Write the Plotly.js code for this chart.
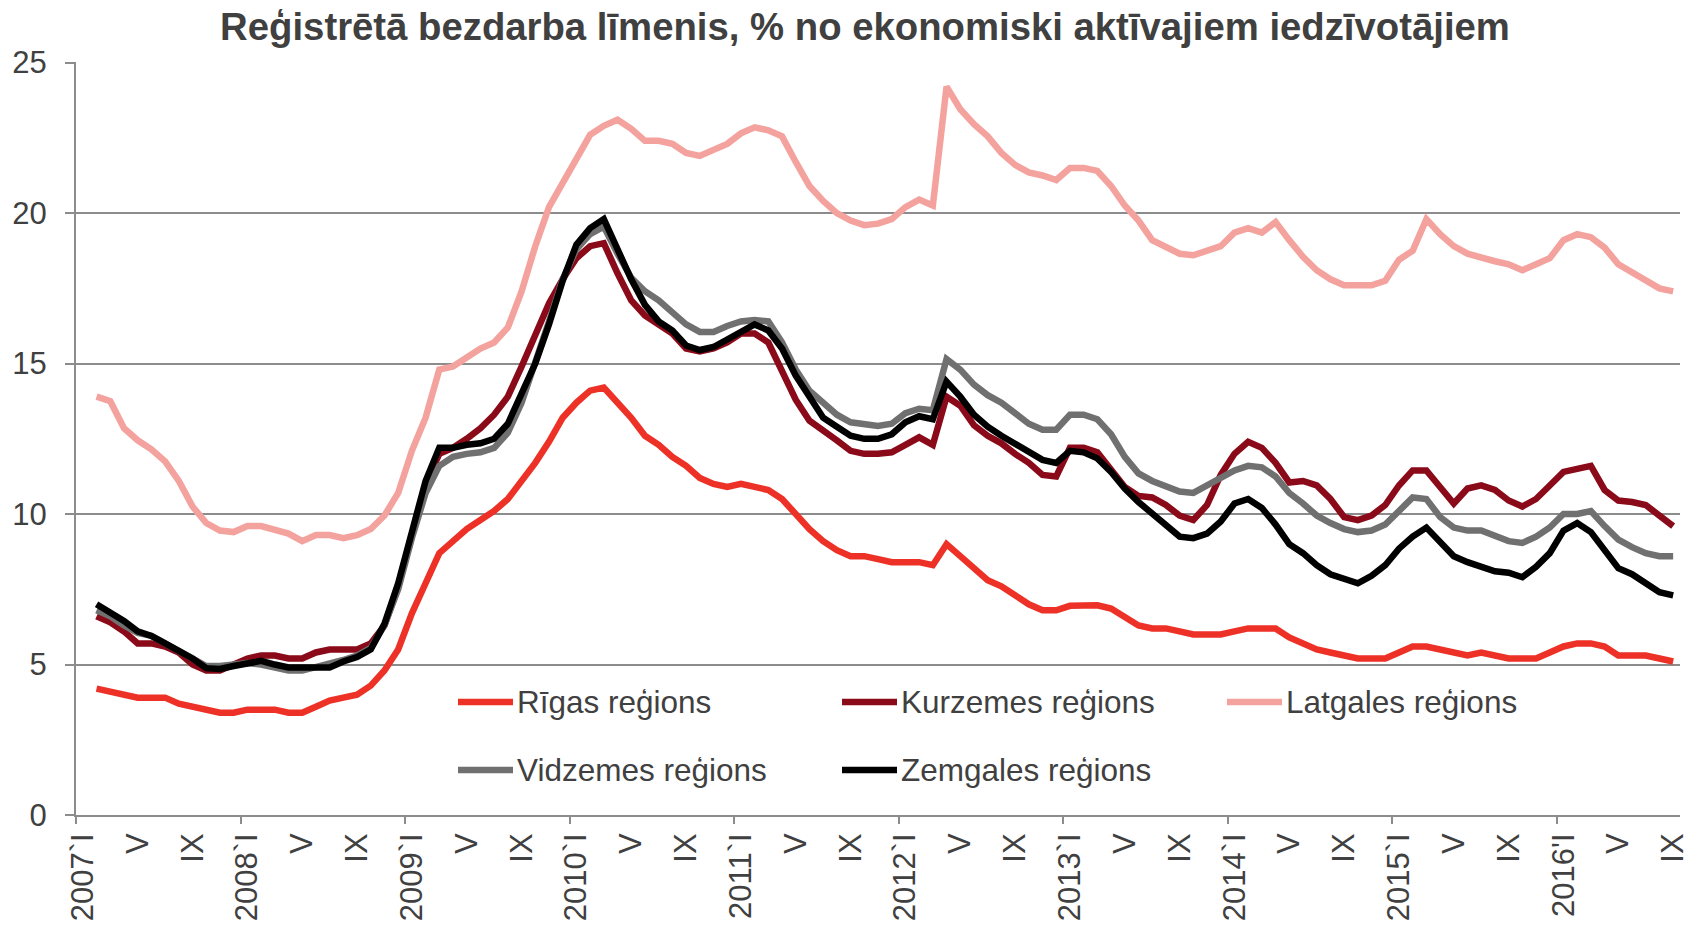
<!DOCTYPE html>
<html>
<head>
<meta charset="utf-8">
<script src="https://cdn.plot.ly/plotly-3.0.1.min.js"></script>
<style>
html,body{margin:0;padding:0;background:#fff;}
#chart{width:1688px;height:926px;}
</style>
</head>
<body>
<div id="chart"></div>
<script>
// ---------------- DATA ----------------
const chartTitle = "Reģistrētā bezdarba līmenis, % no ekonomiski aktīvajiem iedzīvotājiem";
const seriesNames = ["Rīgas reģions", "Kurzemes reģions", "Latgales reģions", "Vidzemes reģions", "Zemgales reģions"];
const romanMonths = ["I","II","III","IV","V","VI","VII","VIII","IX","X","XI","XII"];
const firstYear = 2007, lastYear = 2016, lastMonth = 9;

// monthly values, Feb 2007 .. Sep 2016
const riga = [4.2,4.1,4.0,3.9,3.9,3.9,3.7,3.6,3.5,3.4,3.4,
  3.5,3.5,3.5,3.4,3.4,3.6,3.8,3.9,4.0,4.3,4.8,5.5,
  6.7,7.7,8.7,9.1,9.5,9.8,10.1,10.5,11.1,11.7,12.4,13.2,
  13.7,14.1,14.2,13.7,13.2,12.6,12.3,11.9,11.6,11.2,11.0,10.9,
  11.0,10.9,10.8,10.5,10.0,9.5,9.1,8.8,8.6,8.6,8.5,8.4,
  8.4,8.4,8.3,9.0,8.6,8.2,7.8,7.6,7.3,7.0,6.8,6.8,
  6.95,6.97,6.97,6.86,6.6,6.3,6.2,6.2,6.1,6.0,6.0,6.0,
  6.1,6.2,6.2,6.2,5.9,5.7,5.5,5.4,5.3,5.2,5.2,5.2,
  5.4,5.6,5.6,5.5,5.35,5.3,5.4,5.3,5.2,5.2,5.2,5.4,
  5.6,5.7,5.7,5.6,5.3,5.3,5.3,5.2,5.1];
const kurzeme = [6.6,6.4,6.1,5.7,5.7,5.6,5.4,5.0,4.8,4.8,5.0,
  5.2,5.3,5.3,5.2,5.2,5.4,5.5,5.5,5.5,5.7,6.3,7.6,
  9.4,11.0,12.0,12.2,12.5,12.85,13.3,13.9,14.9,16.0,17.0,17.8,
  18.5,18.9,19.0,18.0,17.1,16.6,16.3,16.0,15.5,15.4,15.5,15.7,
  16.0,16.0,15.7,14.8,13.8,13.1,12.8,12.45,12.1,12.0,12.0,12.05,
  12.3,12.55,12.3,13.9,13.6,12.95,12.6,12.35,12.0,11.7,11.3,11.25,
  12.2,12.2,12.05,11.5,10.9,10.6,10.55,10.3,9.95,9.8,10.3,11.3,
  12.0,12.4,12.2,11.7,11.05,11.1,10.95,10.5,9.9,9.8,9.95,10.3,
  10.95,11.45,11.45,10.9,10.35,10.85,10.95,10.8,10.45,10.25,10.5,10.95,
  11.4,11.5,11.6,10.8,10.45,10.4,10.3,9.95,9.6];
const latgale = [13.9,13.75,12.85,12.45,12.15,11.75,11.1,10.25,9.7,9.45,9.4,
  9.6,9.6,9.5,9.35,9.1,9.3,9.3,9.2,9.3,9.5,9.95,10.7,
  12.1,13.2,14.8,14.9,15.2,15.5,15.7,16.2,17.4,18.9,20.2,21.0,
  21.8,22.6,22.9,23.1,22.8,22.4,22.4,22.3,22.0,21.9,22.1,22.3,
  22.65,22.85,22.75,22.55,21.7,20.9,20.4,20.0,19.75,19.6,19.65,19.8,
  20.2,20.45,20.25,24.2,23.45,22.95,22.55,22.0,21.6,21.35,21.25,21.1,
  21.5,21.5,21.4,20.9,20.25,19.75,19.1,18.9,18.65,18.6,18.75,18.9,
  19.35,19.5,19.35,19.7,19.1,18.55,18.1,17.8,17.6,17.6,17.6,17.75,
  18.45,18.75,19.8,19.3,18.9,18.65,18.5,18.4,18.3,18.1,18.3,18.5,
  19.1,19.3,19.2,18.85,18.3,18.05,17.8,17.5,17.4];
const vidzeme = [6.8,6.6,6.3,6.05,5.95,5.7,5.45,5.2,4.95,4.95,5.0,
  5.05,5.0,4.9,4.8,4.8,4.9,5.0,5.15,5.3,5.55,6.3,7.5,
  9.2,10.7,11.6,11.9,12.0,12.05,12.2,12.7,13.7,15.0,16.4,17.8,
  18.8,19.3,19.55,18.65,17.85,17.4,17.1,16.7,16.3,16.05,16.05,16.25,
  16.4,16.45,16.4,15.7,14.8,14.1,13.7,13.3,13.05,12.97,12.93,13.0,
  13.35,13.5,13.45,15.15,14.8,14.3,13.95,13.7,13.35,13.0,12.8,12.8,
  13.3,13.3,13.15,12.65,11.9,11.35,11.1,10.9,10.75,10.7,10.95,11.25,
  11.45,11.6,11.55,11.25,10.7,10.35,9.95,9.7,9.5,9.4,9.45,9.65,
  10.1,10.55,10.5,9.9,9.55,9.45,9.45,9.3,9.1,9.04,9.25,9.55,
  10.0,10.0,10.1,9.6,9.15,8.9,8.7,8.6,8.6];
const zemgale = [7.0,6.75,6.45,6.1,5.95,5.7,5.45,5.2,4.88,4.85,4.95,
  5.05,5.12,5.0,4.9,4.9,4.9,4.9,5.1,5.25,5.5,6.35,7.7,
  9.5,11.1,12.2,12.2,12.3,12.35,12.5,13.0,14.0,15.0,16.3,17.75,
  18.95,19.5,19.8,18.75,17.8,16.95,16.4,16.1,15.6,15.45,15.55,15.8,
  16.05,16.3,16.1,15.5,14.6,13.9,13.2,12.9,12.6,12.5,12.5,12.65,
  13.05,13.25,13.15,14.4,13.9,13.3,12.9,12.6,12.35,12.1,11.8,11.7,
  12.1,12.05,11.85,11.4,10.85,10.4,10.0,9.6,9.25,9.2,9.35,9.75,
  10.35,10.5,10.2,9.65,9.0,8.7,8.3,8.0,7.85,7.7,7.95,8.3,
  8.85,9.25,9.55,9.1,8.6,8.4,8.25,8.1,8.05,7.9,8.25,8.7,
  9.45,9.7,9.4,8.8,8.2,8.0,7.7,7.4,7.3];

// ---------------- CATEGORIES / TICKS ----------------
const months = [];
for (let y = firstYear; y <= lastYear; y++) {
  for (let m = 1; m <= 12; m++) {
    if (y === lastYear && m > lastMonth) break;
    months.push(y + "-" + String(m).padStart(2, "0"));
  }
}
const dataMonths = months.slice(months.length - riga.length);

const tickVals = [], tickText = [], yearBoundaries = [];
months.forEach((mk, idx) => {
  const y = +mk.slice(0, 4), m = +mk.slice(5);
  if ((m - 1) % 4 === 0) {
    tickVals.push(mk);
    tickText.push(m === 1 ? (y + (y === 2016 ? "'" : "`") + "I") : romanMonths[m - 1]);
  }
  if (m === 1) yearBoundaries.push(idx - 0.5);
});

// ---------------- STYLE ----------------
const W = 1688, H = 926;
const M = {l: 76, r: 8, t: 62, b: 111};
const FONT = "Liberation Sans, Arial, Helvetica, sans-serif";
const TXT = "#404040";
const GRID = "#8c8c8c";
const colors = ["#ED3127", "#8A0A19", "#F4A29E", "#707070", "#000000"];
const widths = [6.5, 6.5, 6.5, 6.5, 6.5];
const values = [riga, kurzeme, latgale, vidzeme, zemgale];

const traces = values.map((v, k) => ({
  type: "scatter", mode: "lines", name: seriesNames[k],
  x: dataMonths, y: v, xaxis: "x", yaxis: "y",
  line: {color: colors[k], width: widths[k], shape: "linear"},
  showlegend: false, hoverinfo: "skip"
}));

// custom legend (pixel layout -> paper coords)
const pw = W - M.l - M.r, ph = H - M.t - M.b;
const px2x = px => (px - M.l) / pw;
const py2y = py => (H - M.b - py) / ph;
const legendPos = [
  {lx: 458, y: 702}, {lx: 842, y: 702}, {lx: 1227, y: 702},
  {lx: 458, y: 770}, {lx: 842, y: 770}
];
const legLen = 55;
const shapes = [], annotations = [];
legendPos.forEach((p, k) => {
  shapes.push({type: "line", xref: "paper", yref: "paper",
    x0: px2x(p.lx), x1: px2x(p.lx + legLen), y0: py2y(p.y), y1: py2y(p.y),
    line: {color: colors[k], width: 6.5}});
  annotations.push({xref: "paper", yref: "paper", x: px2x(p.lx + legLen + 2), y: py2y(p.y),
    xanchor: "left", yanchor: "middle", showarrow: false, text: seriesNames[k],
    font: {family: FONT, size: 31.5, color: TXT}});
});

const layout = {
  width: W, height: H,
  margin: M,
  paper_bgcolor: "#fff", plot_bgcolor: "#fff",
  font: {family: FONT, color: TXT, size: 31},
  title: {text: "<b>" + chartTitle + "</b>", xref: "container", yref: "container",
    x: 865 / W, y: 1 - 27 / H, xanchor: "center", yanchor: "middle",
    font: {family: FONT, size: 38.3, color: TXT}},
  xaxis: {
    type: "category", categoryorder: "array", categoryarray: months,
    range: [-0.5, months.length - 0.5],
    tickmode: "array", tickvals: tickVals, ticktext: tickText,
    tickangle: -90, ticks: "", showgrid: false, zeroline: false,
    showline: true, linecolor: GRID, linewidth: 2,
    tickfont: {family: FONT, size: 31, color: TXT},
    ticklabelstandoff: 4
  },
  xaxis2: {
    overlaying: "x", anchor: "y", side: "bottom", type: "linear",
    range: [-0.5, months.length - 0.5],
    tickmode: "array", tickvals: yearBoundaries,
    ticks: "outside", ticklen: 8, tickwidth: 2, tickcolor: GRID,
    showticklabels: false, showgrid: false, zeroline: false, showline: false
  },
  yaxis: {
    range: [0, 25.02], tickmode: "linear", tick0: 0, dtick: 5,
    ticks: "outside", ticklen: 9, tickwidth: 2, tickcolor: GRID,
    showgrid: true, gridcolor: GRID, gridwidth: 2,
    showline: true, linecolor: GRID, linewidth: 2, zeroline: false,
    tickfont: {family: FONT, size: 31, color: TXT},
    ticklabelstandoff: 12
  },
  shapes: shapes,
  annotations: annotations,
  showlegend: false
};

// invisible helper trace so the secondary tick axis is drawn
traces.push({type: "scatter", mode: "lines", x: [], y: [], xaxis: "x2", yaxis: "y",
  showlegend: false, hoverinfo: "skip"});

Plotly.newPlot("chart", traces, layout, {displayModeBar: false, staticPlot: true});
</script>
</body>
</html>
